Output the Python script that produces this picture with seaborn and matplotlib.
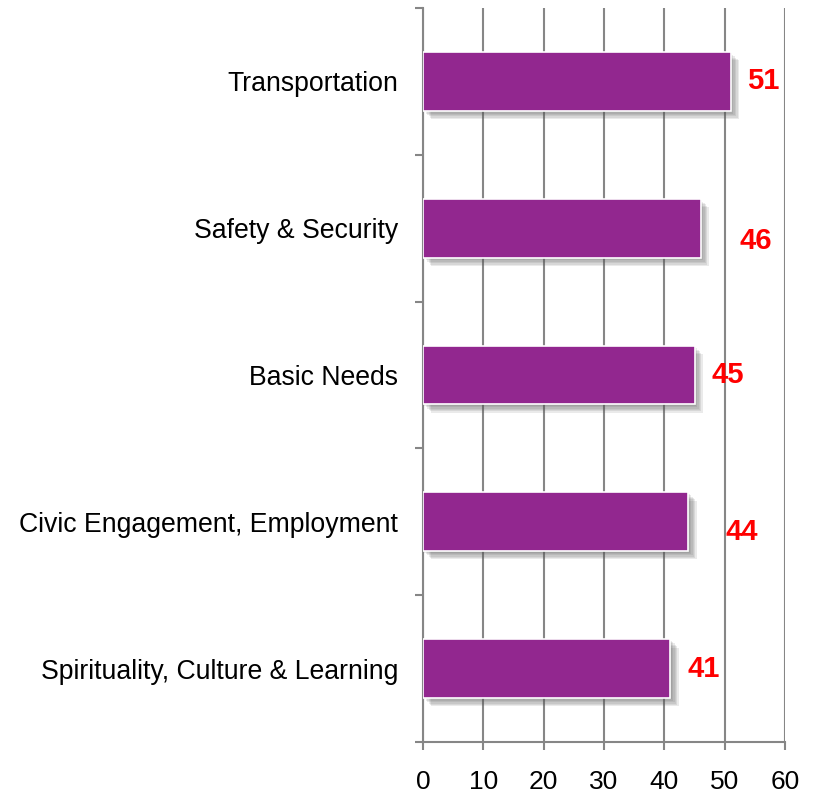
import matplotlib
matplotlib.use("Agg")
import matplotlib.pyplot as plt
import matplotlib.patheffects as pe
import seaborn as sns
import pandas as pd
import numpy as np

categories = ["Transportation", "Safety & Security", "Basic Needs",
              "Civic Engagement, Employment", "Spirituality, Culture & Learning"]
values = [51, 46, 45, 44, 41]
value_labels = ["51", "46", "45", "44", "41"]
# label offsets (points) relative to bar end
label_dx = [12, 28, 12, 27, 12]
label_dy = [0, -9, 0, -7, 0]
x_ticks = [0, 10, 20, 30, 40, 50, 60]

sns.set_style("white")
plt.rcParams['font.family'] = ['Liberation Sans', 'DejaVu Sans']

df = pd.DataFrame({"category": categories, "value": values})

fig = plt.figure(figsize=(8.14, 7.96), dpi=100)
ax = fig.add_axes([423/814, 1-742/796, (785-423)/814, (742-8)/796])

sns.barplot(data=df, x="value", y="category", orient="h", color="#92278F",
            saturation=1, width=0.4, edgecolor="white", linewidth=1.2, ax=ax, zorder=3)

shadow = [pe.SimplePatchShadow(offset=(o, -o), shadow_rgbFace="#555555", alpha=0.12)
          for o in (1, 2, 3, 4, 5, 6)]
for p in ax.patches:
    p.set_path_effects(shadow + [pe.Normal()])

ax.set_xlim(0, 60)
ax.set_ylim(4.5, -0.5)
ax.set_xticks(x_ticks)
ax.set_xticklabels([str(t) for t in x_ticks], fontsize=19, color="black")
ax.xaxis.grid(True, color="#868686", linewidth=1.5, zorder=0)
ax.set_axisbelow(True)
ax.set_xlabel("")
ax.set_ylabel("")

ax.tick_params(axis="y", which="major", left=False, length=0, pad=18, labelsize=19.2, labelcolor="black")
ax.set_yticks(np.arange(-0.5, 5.0, 1.0), minor=True)
ax.tick_params(axis="y", which="minor", left=True, length=6, width=1.5, color="#868686", direction="out")
ax.tick_params(axis="x", which="major", bottom=True, length=6, width=1.5, color="#868686",
               direction="out", pad=14)

for s in ["top", "right"]:
    ax.spines[s].set_visible(False)
for s in ["left", "bottom"]:
    ax.spines[s].set_color("#868686")
    ax.spines[s].set_linewidth(1.5)

for i, (v, lab) in enumerate(zip(values, value_labels)):
    ax.annotate(lab, xy=(v, i), xytext=(label_dx[i], label_dy[i]), textcoords="offset points",
                ha="left", va="center", color="#FF0000", fontsize=21, fontweight="bold")

fig.savefig("out.png", dpi=100)
